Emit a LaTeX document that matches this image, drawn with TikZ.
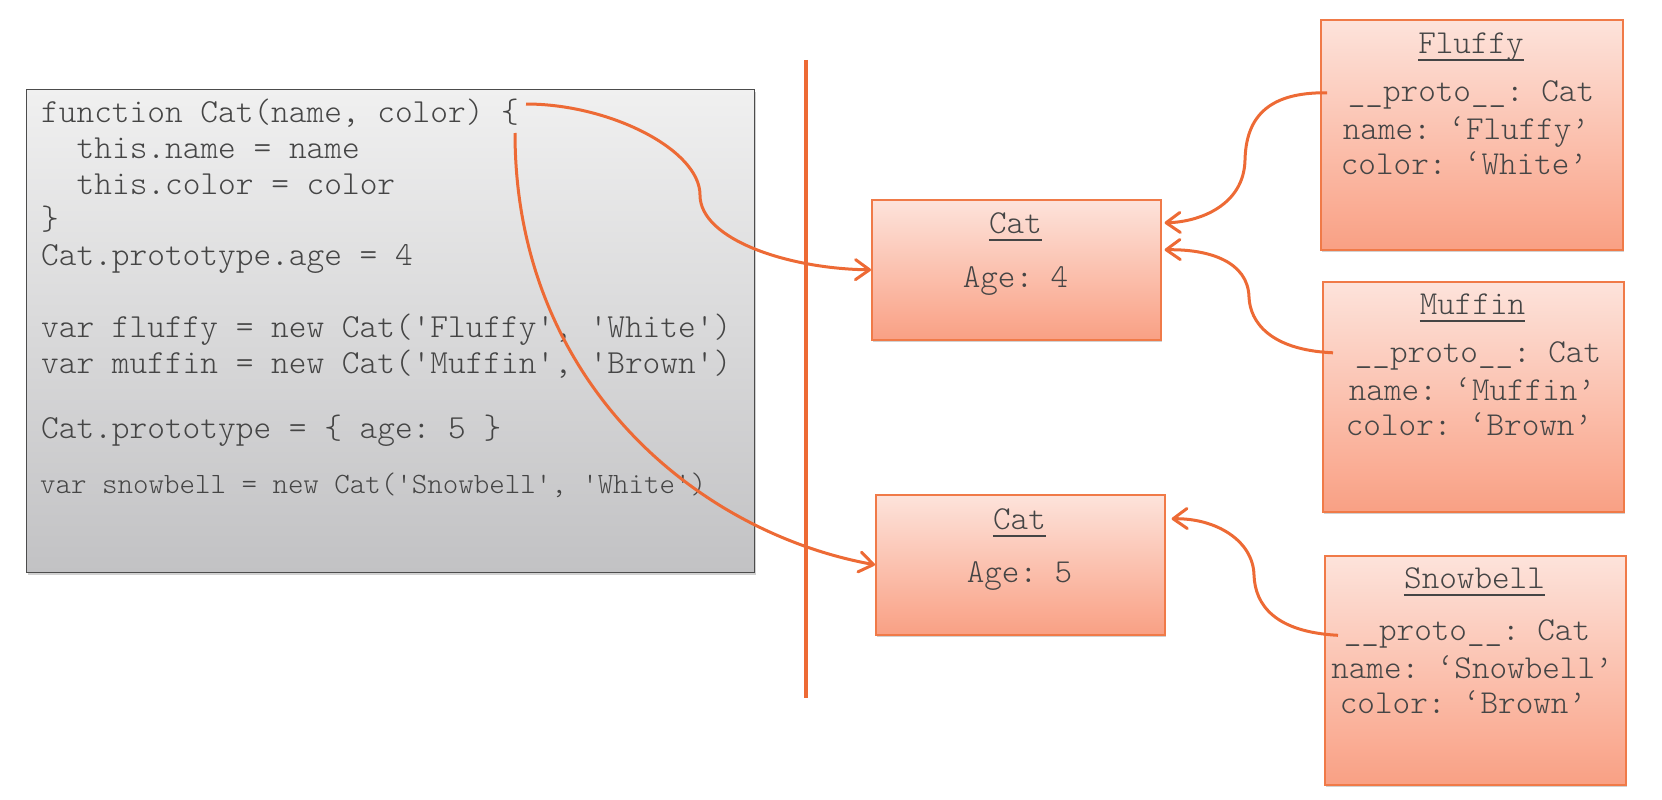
\documentclass[tikz,border=0pt]{standalone}
\usepackage{fontspec}
\setmonofont{lmmonolt10-regular.otf}
\usetikzlibrary{shadows,arrows.meta,calc}
\definecolor{acc}{HTML}{ED6A35}
\definecolor{txt}{HTML}{454545}
\definecolor{codetop}{HTML}{F0F0F0}
\definecolor{codebot}{HTML}{C2C2C4}
\definecolor{objtop}{HTML}{FDE3DB}
\definecolor{objbot}{HTML}{F9A084}
\definecolor{objedge}{HTML}{F07A48}
\tikzset{
  shad/.style={drop shadow={shadow xshift=1.5pt, shadow yshift=-2.5pt, opacity=0.3, fill=black!60}},
  codebox/.style={draw=black!70, line width=1.4pt, top color=codetop, bottom color=codebot, shad, inner sep=0pt, anchor=north west},
  objbox/.style={draw=objedge, line width=1.6pt, top color=objtop, bottom color=objbot, shad, inner sep=0pt, anchor=north west},
  codeline/.style={font=\ttfamily\fontsize{33.7}{36}\selectfont, text=txt, anchor=base west, inner sep=0pt},
  smallcode/.style={font=\ttfamily\fontsize{29.5}{30}\selectfont, text=txt, anchor=base west, inner sep=0pt},
  objtext/.style={font=\ttfamily\fontsize{33.5}{36}\selectfont, text=txt, anchor=base, inner sep=0pt},
  uline/.style={draw=txt, line width=1.3pt},
  conn/.style={draw=acc, line width=3pt, -{Straight Barb[length=14pt, width=20pt, line cap=round, line join=round]}},
  divider/.style={draw=acc, line width=3.3pt},
}
\begin{document}
\begin{tikzpicture}[x=1pt, y=-1pt]
\useasboundingbox (0,0) rectangle (1662,800);

% code box
\node[codebox, minimum width=728pt, minimum height=483pt] (code) at (26,89) {};
\node[codeline] (l1) at (41,122) {function Cat(name, color) \{};
\node[codeline] (l2) at (76.5,158) {this.name = name};
\node[codeline] (l3) at (76.5,194) {this.color = color};
\node[codeline] (l4) at (41,229) {\}};
\node[codeline] (l5) at (41,265) {Cat.prototype.age = 4};
\node[codeline] (l6) at (41,337) {var fluffy = new Cat('Fluffy', 'White')};
\node[codeline] (l7) at (41,373) {var muffin = new Cat('Muffin', 'Brown')};
\node[codeline] (l8) at (41,438) {Cat.prototype = \{ age: 5 \}};
\node[smallcode] (l9) at (40,493) {var snowbell = new Cat('Snowbell', 'White')};

% divider
\draw[divider] (806,60) -- (806,698);

% prototype objects
\node[objbox, minimum width=289pt, minimum height=140pt] (cat1) at (871,199) {};
\node[objtext] (cat1t) at (1015.5,233) {Cat};
\draw[uline] ($(cat1t.base west)+(0,7)$) -- ($(cat1t.base east)+(0,7)$);
\node[objtext] (cat1a) at (1015.5,287) {Age: 4};

\node[objbox, minimum width=289pt, minimum height=140pt] (cat2) at (875,494) {};
\node[objtext] (cat2t) at (1019.5,529) {Cat};
\draw[uline] ($(cat2t.base west)+(0,7)$) -- ($(cat2t.base east)+(0,7)$);
\node[objtext] (cat2a) at (1019.5,582) {Age: 5};

% instances
\node[objbox, minimum width=302pt, minimum height=230pt] (fluffy) at (1320,19) {};
\node[objtext] (ft) at (1471,53) {Fluffy};
\draw[uline] ($(ft.base west)+(0,7)$) -- ($(ft.base east)+(0,7)$);
\node[objtext] (f1) at (1471,101) {\_\_proto\_\_: Cat};
\node[objtext] (f2) at (1466,139) {name: ‘Fluffy’};
\node[objtext] (f3) at (1464,174) {color: ‘White’};

\node[objbox, minimum width=301pt, minimum height=230pt] (muffin) at (1322,281) {};
\node[objtext] (mt) at (1472.5,314) {Muffin};
\draw[uline] ($(mt.base west)+(0,7)$) -- ($(mt.base east)+(0,7)$);
\node[objtext] (m1) at (1478,362) {\_\_proto\_\_: Cat};
\node[objtext] (m2) at (1472,400) {name: ‘Muffin’};
\node[objtext] (m3) at (1469,435) {color: ‘Brown’};

\node[objbox, minimum width=301pt, minimum height=229pt] (snowbell) at (1324,555) {};
\node[objtext] (st) at (1474.5,588) {Snowbell};
\draw[uline] ($(st.base west)+(0,7)$) -- ($(st.base east)+(0,7)$);
\node[objtext] (s1t) at (1467,640) {\_\_proto\_\_: Cat};
\node[objtext] (s2t) at (1472,678) {name: ‘Snowbell’};
\node[objtext] (s3t) at (1463,713) {color: ‘Brown’};

% connectors
\coordinate (st1) at (526,104);
\coordinate (st2) at (515,133);
\draw[conn] (st1) .. controls (610,104) and (700,150) .. (700,195)
  .. controls (700,240) and (790,269) .. (cat1.west);
\draw[conn] (st2) .. controls (515,380) and (695,532) .. (cat2.west);

\draw[conn] ([xshift=7pt,yshift=42pt]fluffy.west) .. controls (1265,92) and (1246,120) .. (1245,160)
  .. controls (1244,205) and (1200,222) .. ([xshift=3pt,yshift=47pt]cat1.east);
\draw[conn] ([xshift=11pt,yshift=44pt]muffin.west) .. controls (1270,350) and (1250,322) .. (1249,297)
  .. controls (1248,262) and (1210,249) .. ([xshift=3pt,yshift=20pt]cat1.east);
\draw[conn] ([xshift=14pt,yshift=35pt]snowbell.west) .. controls (1275,632) and (1255,605) .. (1254,575)
  .. controls (1253,540) and (1215,518) .. ([xshift=6pt,yshift=46pt]cat2.east);
\end{tikzpicture}
\end{document}
